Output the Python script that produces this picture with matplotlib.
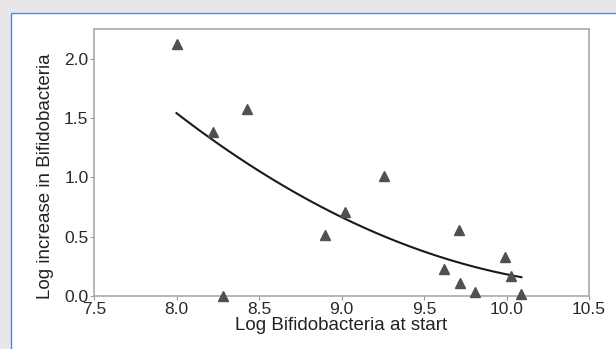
import numpy as np
import matplotlib.pyplot as plt
from matplotlib.patches import Rectangle

plt.rcParams['font.family'] = ['Liberation Sans', 'DejaVu Sans']

# data
start_log = [8.00, 8.22, 8.28, 8.43, 8.90, 9.02, 9.26, 9.62, 9.71, 9.72, 9.81, 9.99, 10.03, 10.09]
increase_log = [2.12, 1.38, 0.00, 1.58, 0.51, 0.71, 1.01, 0.23, 0.56, 0.11, 0.03, 0.33, 0.17, 0.02]

x_ticks = [7.5, 8.0, 8.5, 9.0, 9.5, 10.0, 10.5]
y_ticks = [0.0, 0.5, 1.0, 1.5, 2.0]

fig = plt.figure(figsize=(6.16, 3.49), dpi=100)
fig.patch.set_facecolor('#e8e6e9')

# white panel with blue border at top/left
fig.patches.append(Rectangle((11 / 616, -0.05), 1.0, 1 - 13 / 349 + 0.05,
                             transform=fig.transFigure, facecolor='white',
                             edgecolor='#5b86c8', linewidth=1.0, zorder=-10))

ax = fig.add_axes([94 / 616, 1 - 296 / 349, (589 - 94) / 616, (296 - 29) / 349])
ax.set_zorder(5)

# quadratic trend, as in the original
coef = np.polyfit(start_log, increase_log, 2)
xs = np.linspace(min(start_log), max(start_log), 100)
ax.plot(xs, np.polyval(coef, xs), color='#1a1a1a', lw=1.5, zorder=3)

ax.plot(start_log, increase_log, linestyle='none', marker='^', markersize=7,
        color='#505050', clip_on=False, zorder=4)

ax.set_xlim(7.5, 10.5)
ax.set_ylim(0, 2.25)
ax.set_xticks(x_ticks)
ax.set_yticks(y_ticks)
ax.set_xticklabels([f'{v:.1f}' for v in x_ticks])
ax.set_yticklabels([f'{v:.1f}' for v in y_ticks])
ax.tick_params(labelsize=12.5, labelcolor='#2a2a2a', color='#999999', length=3, pad=1)
for s in ax.spines.values():
    s.set_color('#aaaaaa')
    s.set_linewidth(1.2)

ax.set_xlabel('Log Bifidobacteria at start', fontsize=13.5, color='#222222', labelpad=0)
ax.set_ylabel('Log increase in Bifidobacteria', fontsize=13.5, color='#222222')
ax.yaxis.set_label_coords(-0.08, 0.45)

fig.savefig('out.png', dpi=100, facecolor=fig.get_facecolor())
